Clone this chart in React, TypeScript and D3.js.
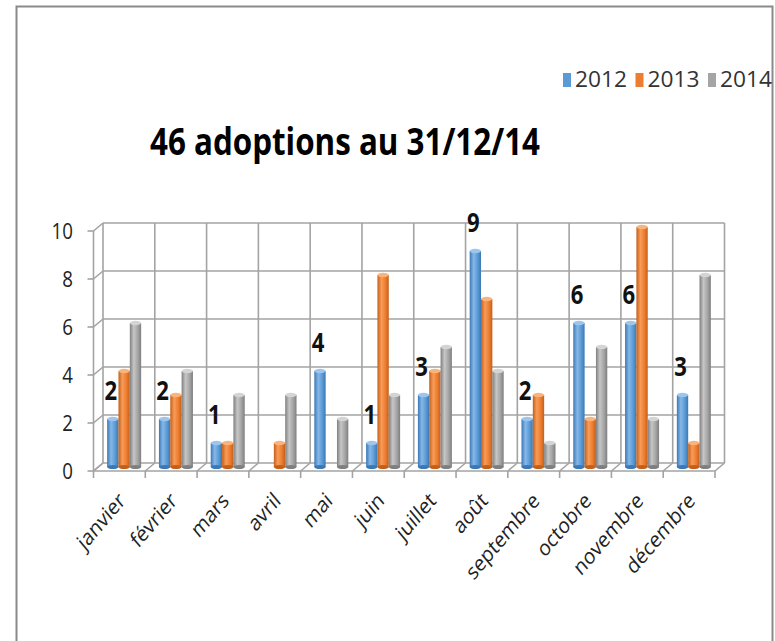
import React from "react";
import * as d3 from "d3";

// data
const months = ["janvier", "février", "mars", "avril", "mai", "juin", "juillet", "août", "septembre", "octobre", "novembre", "décembre"];
const years = ["2012", "2013", "2014"];
const values2012 = [2, 2, 1, 0, 4, 1, 3, 9, 2, 6, 6, 3];
const values2013 = [4, 3, 1, 1, 0, 8, 4, 7, 3, 2, 10, 1];
const values2014 = [6, 4, 3, 3, 2, 3, 5, 4, 1, 5, 2, 8];
const yTicks = [0, 2, 4, 6, 8, 10];
const title = "46 adoptions au 31/12/14";

const series = [values2012, values2013, values2014];
const colors = [
  { base: "#5b9bd5", dark: "#3b78b5", light: "#86b8e8", top: "#9cc6ee" },
  { base: "#ed7d31", dark: "#c45f19", light: "#f89c58", top: "#fbb37c" },
  { base: "#a5a5a5", dark: "#7f7f7f", light: "#c6c6c6", top: "#d4d4d4" },
];

const grid = "#a3a3a3";
const font = "'Open Sans', 'DejaVu Sans', sans-serif";

// 3D depth offset (front -> back)
const dx = 9.5;
const dy = -8;
const squish = 0.85; // the picture is a little narrower than tall

export default function App() {
  const x = d3.scaleBand<string>().domain(months).range([93.5, 715]);
  const y = d3.scaleLinear().domain([0, 10]).range([471, 231]);
  const inner = d3.scaleBand<string>().domain(years).range([0, 34]);
  const groupOff = (x.bandwidth() - 34) / 2;
  const bw = inner.bandwidth();

  const x0 = x.range()[0];
  const x1 = x.range()[1];
  const bounds = months.map((m) => x(m) as number).concat([x1]);

  return (
    <svg width={775} height={641} style={{ position: "absolute", left: 0, top: 0, background: "#fff" }}>
      <defs>
        {colors.map((c, i) => (
          <linearGradient key={i} id={"cyl" + i} x1="0" x2="1" y1="0" y2="0">
            <stop offset="0%" stopColor={c.dark} />
            <stop offset="35%" stopColor={c.light} />
            <stop offset="70%" stopColor={c.base} />
            <stop offset="100%" stopColor={c.dark} />
          </linearGradient>
        ))}
      </defs>

      {/* outer frame */}
      <rect x={16.5} y={6.5} width={756} height={700} fill="#fff" stroke="#8a8a8a" strokeWidth={2} />

      {/* legend */}
      {years.map((yr, i) => {
        const lx = 563 + i * 72.5;
        return (
          <g key={yr}>
            <rect x={lx} y={73} width={8} height={14} fill={colors[i].base} />
            <text x={lx + 12} y={87} fontFamily={font} fontSize={21} fill="#333" textLength={52} lengthAdjust="spacingAndGlyphs">{yr}</text>
          </g>
        );
      })}

      {/* title */}
      <text x={150} y={155} fontFamily={font} fontWeight="bold" fontSize={38} fill="#000" textLength={390} lengthAdjust="spacingAndGlyphs">{title}</text>

      {/* back wall gridlines */}
      <g stroke={grid} strokeWidth={1.6} fill="none">
        {yTicks.map((t) => (
          <line key={"h" + t} x1={x0 + dx} x2={x1 + dx} y1={y(t) + dy} y2={y(t) + dy} />
        ))}
        {bounds.map((b, i) => (
          <line key={"v" + i} x1={b + dx} x2={b + dx} y1={y(0) + dy} y2={y(10) + dy} />
        ))}
        {/* side wall */}
        {yTicks.map((t) => (
          <line key={"s" + t} x1={x0} x2={x0 + dx} y1={y(t)} y2={y(t) + dy} />
        ))}
        <line x1={x0} x2={x0} y1={y(0)} y2={y(10)} />
        {yTicks.map((t) => (
          <line key={"t" + t} x1={x0 - 6} x2={x0} y1={y(t)} y2={y(t)} />
        ))}
        {/* floor */}
        <line x1={x0} x2={x1} y1={y(0)} y2={y(0)} />
        {bounds.map((b, i) => (
          <g key={"f" + i}>
            <line x1={b} x2={b + dx} y1={y(0)} y2={y(0) + dy} />
            <line x1={b} x2={b} y1={y(0)} y2={y(0) + 7} />
          </g>
        ))}
      </g>

      {/* y labels */}
      {yTicks.map((t) => (
        <text key={t} transform={`translate(73,${y(t) + 7.5}) scale(${squish},1)`} textAnchor="end" fontFamily={font} fontSize={22} fill="#222">{t}</text>
      ))}

      {/* bars */}
      {months.map((m, mi) => (
        <g key={m}>
          {years.map((yr, si) => {
            const v = series[si][mi];
            if (!v) return null;
            const bx = (x(m) as number) + dx / 2 + groupOff + (inner(yr) as number);
            const base = y(0) + dy / 2;
            const top = y(v) + dy / 2;
            return (
              <g key={yr}>
                <rect x={bx} y={top} width={bw} height={base - top} fill={`url(#cyl${si})`} />
                <ellipse cx={bx + bw / 2} cy={base} rx={bw / 2} ry={2} fill={colors[si].dark} />
                <ellipse cx={bx + bw / 2} cy={top} rx={bw / 2} ry={2.2} fill={colors[si].top} />
              </g>
            );
          })}
        </g>
      ))}

      {/* data labels (2012) */}
      {months.map((m, mi) => {
        const v = values2012[mi];
        if (!v) return null;
        const bx = (x(m) as number) + dx / 2 + groupOff + (inner("2012") as number);
        return (
          <text key={m} transform={`translate(${bx + bw / 2 - 2},${y(v) + dy / 2 - 19}) scale(${squish},1)`} textAnchor="middle" fontFamily={font} fontWeight="bold" fontSize={26} fill="#111">{v}</text>
        );
      })}

      {/* x labels */}
      {months.map((m) => {
        const cx = (x(m) as number) + x.bandwidth() / 2 + 7;
        return (
          <text key={m} transform={`translate(${cx},${502}) scale(${squish},1) rotate(-45)`} textAnchor="end" fontFamily={font} fontSize={22} fill="#222">{m}</text>
        );
      })}
    </svg>
  );
}
